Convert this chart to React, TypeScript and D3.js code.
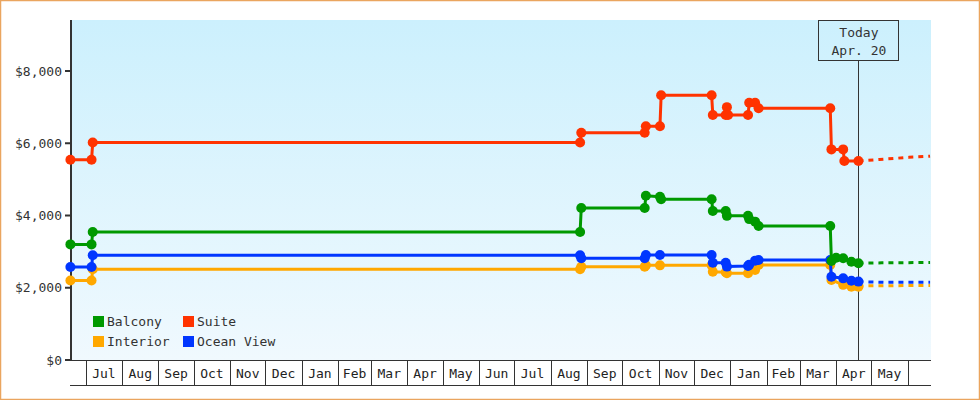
import React from "react";
import * as d3 from "d3";

const W = 980;
const H = 400;

const seriesNames = ["Interior", "Ocean View", "Balcony", "Suite"];
const seriesColors = ["#ffa800", "#0036ff", "#009900", "#ff3300"];

const interiorDates = ["2013-06-18","2013-07-06","2013-07-07","2014-08-26","2014-08-27","2014-10-20","2014-10-21","2014-11-02","2014-12-16","2014-12-17","2014-12-28","2014-12-29","2015-01-16","2015-01-22","2015-01-25","2015-03-27","2015-03-28","2015-04-07","2015-04-14","2015-04-20"];
const interiorPrices = [2200,2200,2510,2510,2580,2580,2620,2620,2620,2445,2430,2400,2400,2490,2630,2630,2215,2080,2030,2030];

const oceanDates = ["2013-06-18","2013-07-06","2013-07-07","2014-08-26","2014-08-27","2014-10-20","2014-10-21","2014-11-02","2014-12-16","2014-12-17","2014-12-28","2014-12-29","2015-01-16","2015-01-17","2015-01-22","2015-01-25","2015-03-27","2015-03-28","2015-04-07","2015-04-14","2015-04-20"];
const oceanPrices = [2575,2575,2900,2900,2815,2815,2905,2905,2905,2690,2690,2585,2600,2640,2750,2770,2770,2305,2260,2195,2170];

const balconyDates = ["2013-06-18","2013-07-06","2013-07-07","2014-08-26","2014-08-27","2014-10-20","2014-10-21","2014-11-02","2014-11-03","2014-12-16","2014-12-17","2014-12-28","2014-12-29","2015-01-16","2015-01-17","2015-01-22","2015-01-25","2015-03-27","2015-03-28","2015-04-01","2015-04-07","2015-04-14","2015-04-20"];
const balconyPrices = [3200,3200,3545,3545,4210,4210,4545,4520,4450,4450,4125,4125,3990,3990,3900,3830,3710,3710,2740,2830,2815,2720,2680];

const suiteDates = ["2013-06-18","2013-07-06","2013-07-07","2014-08-26","2014-08-27","2014-10-20","2014-10-21","2014-11-02","2014-11-03","2014-12-16","2014-12-17","2014-12-28","2014-12-29","2014-12-30","2015-01-16","2015-01-17","2015-01-22","2015-01-25","2015-03-27","2015-03-28","2015-04-07","2015-04-08","2015-04-20"];
const suitePrices = [5545,5545,6020,6020,6290,6290,6470,6470,7330,7330,6780,6780,7000,6780,6780,7120,7120,6970,6970,5830,5830,5510,5510];

const interiorForecastDates = ["2015-04-20","2015-06-20"];
const interiorForecastPrices = [2050,2065];
const oceanForecastDates = ["2015-04-20","2015-05-12","2015-06-20"];
const oceanForecastPrices = [2170,2150,2150];
const balconyForecastDates = ["2015-04-20","2015-05-10","2015-06-20"];
const balconyForecastPrices = [2680,2690,2700];
const suiteForecastDates = ["2015-04-20","2015-05-08","2015-06-02","2015-06-20"];
const suiteForecastPrices = [5510,5550,5610,5640];

const yTicks = [0, 2000, 4000, 6000, 8000];
const todayDate = "2015-04-20";
const todayLabel = ["Today", "Apr. 20"];

const legendNames = ["Balcony", "Suite", "Interior", "Ocean View"];
const legendColors = ["#009900", "#ff3300", "#ffa800", "#0036ff"];

const parse = d3.timeParse("%Y-%m-%d");
const FONT = "'DejaVu Sans Mono', monospace";

export default function App() {
  const left = 71, right = 931, top = 20, bottom = 360, bandBottom = 385;
  const x = d3.scaleTime()
    .domain([new Date(2013, 5, 18, 12), new Date(2015, 5, 20, 19)])
    .range([left, right]);
  const y = d3.scaleLinear().domain([0, 9412]).range([bottom, top]);

  const mk = (ds: string[], ps: number[]) => ds.map((d, i) => ({ d: parse(d) as Date, v: ps[i] }));
  const series = [
    mk(interiorDates, interiorPrices),
    mk(oceanDates, oceanPrices),
    mk(balconyDates, balconyPrices),
    mk(suiteDates, suitePrices),
  ];
  const forecasts = [
    mk(interiorForecastDates, interiorForecastPrices),
    mk(oceanForecastDates, oceanForecastPrices),
    mk(balconyForecastDates, balconyForecastPrices),
    mk(suiteForecastDates, suiteForecastPrices),
  ];
  const line = d3.line<{ d: Date; v: number }>().x(p => x(p.d)).y(p => y(p.v));

  const [d0, d1] = x.domain();
  const months = d3.timeMonth.range(d3.timeMonth.ceil(d0), d1);
  const fmtMonth = d3.timeFormat("%b");
  const fmtMoney = (v: number) => "$" + d3.format(",")(v);
  const tx = x(parse(todayDate) as Date);

  return (
    <div style={{ position: "absolute", left: 0, top: 0, width: W, height: H }}>
      <svg width={W} height={H} style={{ display: "block" }} fontFamily={FONT}>
        <defs>
          <linearGradient id="bg" x1="0" y1="0" x2="0" y2="1">
            <stop offset="0%" stopColor="#ccf0fd" />
            <stop offset="100%" stopColor="#f0f9fe" />
          </linearGradient>
        </defs>
        <rect x={0} y={0} width={W} height={H} fill="#fff" />
        <rect x={0.5} y={0.5} width={W - 1} height={H - 1} fill="none" stroke="#eaa55f" strokeWidth={1.5} />
        <rect x={left} y={top} width={right - left} height={bottom - top} fill="url(#bg)" />

        {/* month band */}
        <line x1={left} x2={right} y1={bottom + 0.5} y2={bottom + 0.5} stroke="#333" strokeWidth={1} />
        <line x1={left - 1} x2={right} y1={bandBottom + 0.5} y2={bandBottom + 0.5} stroke="#333" strokeWidth={1} />
        {months.map((m, i) => {
          const xm = Math.round(x(m)) + 0.5;
          const next = d3.timeMonth.offset(m, 1);
          const full = next <= d1;
          return (
            <g key={i}>
              <line x1={xm} x2={xm} y1={bottom} y2={bandBottom} stroke="#333" strokeWidth={1} />
              {full && (
                <text x={(x(m) + x(next)) / 2} y={373} textAnchor="middle" dominantBaseline="central" fontSize={13} fill="#222">
                  {fmtMonth(m)}
                </text>
              )}
            </g>
          );
        })}

        {/* y axis */}
        <line x1={left} x2={left} y1={top} y2={bottom + 1} stroke="#333" strokeWidth={2} />
        {yTicks.map(t => (
          <g key={t}>
            <line x1={left - 6} x2={left} y1={y(t)} y2={y(t)} stroke="#333" strokeWidth={2} />
            <text x={62} y={y(t)} textAnchor="end" dominantBaseline="central" fontSize={13} fill="#333">
              {fmtMoney(t)}
            </text>
          </g>
        ))}

        {/* today marker */}
        <line x1={Math.round(tx) + 0.5} x2={Math.round(tx) + 0.5} y1={60} y2={bottom} stroke="#333" strokeWidth={1} />
        <rect x={Math.round(tx) - 39.5} y={20.5} width={80} height={40} fill="none" stroke="#333" strokeWidth={1} />
        <text x={tx + 0.5} y={32.5} textAnchor="middle" dominantBaseline="central" fontSize={13} fill="#333">{todayLabel[0]}</text>
        <text x={tx + 0.5} y={50} textAnchor="middle" dominantBaseline="central" fontSize={13} fill="#333">{todayLabel[1]}</text>

        {/* series */}
        {series.map((s, i) => (
          <g key={seriesNames[i]}>
            <path d={line(forecasts[i]) || ""} fill="none" stroke={seriesColors[i]} strokeWidth={3} strokeDasharray="5,5" />
            <path d={line(s) || ""} fill="none" stroke={seriesColors[i]} strokeWidth={3} strokeLinejoin="round" />
            {s.map((p, j) => (
              <circle key={j} cx={x(p.d)} cy={y(p.v)} r={5} fill={seriesColors[i]} />
            ))}
          </g>
        ))}

        {/* legend */}
        {legendNames.map((n, i) => {
          const col = i % 2, row = Math.floor(i / 2);
          const lx = 93 + col * 90;
          const ly = 316 + row * 20;
          return (
            <g key={n}>
              <rect x={lx} y={ly} width={11} height={11} fill={legendColors[i]} />
              <text x={lx + 14} y={ly + 5.5} dominantBaseline="central" fontSize={13} fill="#333">{n}</text>
            </g>
          );
        })}
      </svg>
    </div>
  );
}
